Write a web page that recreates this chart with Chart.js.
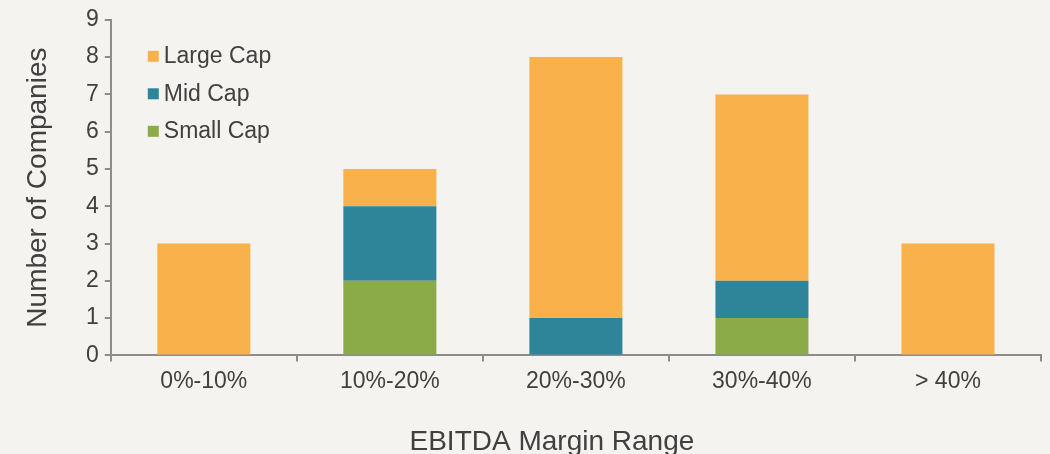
<!DOCTYPE html>
<html>
<head>
<meta charset="utf-8">
<style>
  html, body { margin: 0; padding: 0; background: #f4f3ef; }
  #wrap { width: 1050px; height: 454px; }
</style>
<script src="https://cdn.jsdelivr.net/npm/chart.js@4/dist/chart.umd.min.js"></script>
</head>
<body>
<div id="wrap"><canvas id="chart"></canvas></div>
<script>
const categories = ["0%-10%", "10%-20%", "20%-30%", "30%-40%", "> 40%"];
const smallCap = [0, 2, 0, 1, 0];
const midCap = [0, 2, 1, 1, 0];
const largeCap = [3, 1, 7, 5, 3];

const textColor = "#404040";
const axisColor = "#8c8c8c";
const fontFamily = "'Liberation Sans', Arial, Helvetica, sans-serif";

// legend drawn inside the plot, top-left, Large Cap first
const insideLegend = {
  id: "insideLegend",
  afterDraw(chart) {
    const ctx = chart.ctx;
    const area = chart.chartArea;
    const items = chart.data.datasets.slice().reverse();
    ctx.save();
    ctx.font = "23px " + fontFamily;
    ctx.textBaseline = "middle";
    items.forEach((ds, i) => {
      const y = area.top + 36 + i * 37.5;
      const x = area.left + 37;
      ctx.fillStyle = ds.backgroundColor;
      ctx.fillRect(x, y - 5, 11, 11);
      ctx.fillStyle = textColor;
      ctx.fillText(ds.label, x + 16, y + 1);
    });
    // x axis title, sits a little left of the plot centre in the original
    ctx.font = "28px " + fontFamily;
    ctx.textAlign = "center";
    ctx.fillText("EBITDA Margin Range", (area.left + area.right) / 2 - 24, chart.height - 12);
    ctx.restore();
  }
};

new Chart(document.getElementById("chart"), {
  type: "bar",
  data: {
    labels: categories,
    datasets: [
      { label: "Small Cap", data: smallCap, backgroundColor: "#8aab48" },
      { label: "Mid Cap", data: midCap, backgroundColor: "#2e8599" },
      { label: "Large Cap", data: largeCap, backgroundColor: "#f9b24b" }
    ]
  },
  options: {
    responsive: true,
    maintainAspectRatio: false,
    animation: false,
    layout: { padding: { top: 2, right: 9, left: 24, bottom: 53 } },
    datasets: { bar: { categoryPercentage: 1, barPercentage: 0.5 } },
    plugins: {
      legend: { display: false },
      tooltip: { enabled: false }
    },
    scales: {
      x: {
        stacked: true,
        grid: { display: true, drawOnChartArea: false, drawTicks: true, tickLength: 6, color: axisColor, lineWidth: 2, offset: true },
        border: { color: axisColor, width: 2 },
        ticks: { color: textColor, font: { family: fontFamily, size: 23 }, padding: 6 }
      },
      y: {
        stacked: true,
        min: 0,
        max: 9,
        grid: { display: true, drawOnChartArea: false, drawTicks: true, tickLength: 6, color: axisColor, lineWidth: 2 },
        border: { color: axisColor, width: 2 },
        ticks: { stepSize: 1, color: textColor, font: { family: fontFamily, size: 23 }, padding: 6 },
        title: { display: true, text: "Number of Companies", color: textColor, font: { family: fontFamily, size: 28, lineHeight: 1 }, padding: { top: 0, bottom: 28 } }
      }
    }
  },
  plugins: [insideLegend]
});
</script>
</body>
</html>
